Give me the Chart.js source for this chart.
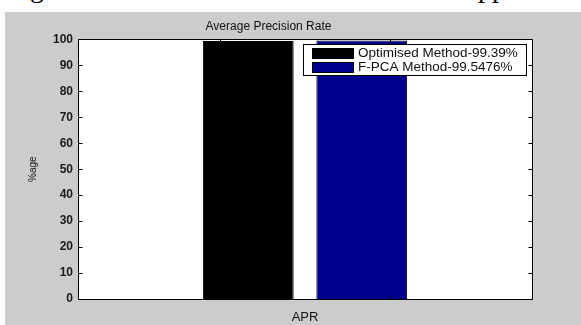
<!DOCTYPE html>
<html><head><meta charset="utf-8">
<script src="https://cdn.jsdelivr.net/npm/chart.js@4/dist/chart.umd.min.js"></script>
<style>
html,body{margin:0;padding:0;background:#fff;width:581px;height:325px;overflow:hidden;}
#frag{position:absolute;left:0;top:0;width:581px;height:12px;overflow:hidden;font-family:"Liberation Serif",serif;font-size:28px;color:#000;}
#frag span{position:absolute;top:-28px;line-height:32px;}
#wrap{position:absolute;left:5px;top:12px;width:576px;height:313px;background:#cccccc;}
canvas{display:block;}
</style></head>
<body>
<div id="frag"><span style="left:30px">g</span><span style="left:478px">pp</span></div>
<div id="wrap"><canvas id="c" width="576" height="313"></canvas></div>
<script>
// ---- data ----
const categories = ['APR'];
const seriesNames = ['Optimised Method-99.39%', 'F-PCA Method-99.5476%'];
const optimisedValues = [99.39];
const fpcaValues = [99.5476];
const seriesColors = ['#000000', '#00008f'];
const yTickValues = [0, 10, 20, 30, 40, 50, 60, 70, 80, 90, 100];
const xTickMarkValues = [1, 7]; // positions on a 0–8 helper axis

const FONT = '"Liberation Sans", Arial, sans-serif';

const framePlugin = {
  id: 'frame',
  beforeDatasetsDraw(chart) {
    const {ctx, chartArea: a} = chart;
    ctx.save();
    ctx.fillStyle = '#ffffff';
    ctx.fillRect(a.left, a.top, a.right - a.left, a.bottom - a.top);
    ctx.restore();
  },
  afterDatasetsDraw(chart) {
    const {ctx, chartArea: a, scales} = chart;
    const y = scales.y, xt = scales.xt;
    const L = Math.round(a.left) + 0.5, R = Math.round(a.right) + 0.5;
    const T = Math.round(a.top) + 0.5, B = Math.round(a.bottom) + 0.5;
    ctx.save();
    ctx.strokeStyle = '#000';
    ctx.lineWidth = 1;
    ctx.beginPath();
    ctx.rect(L, T, R - L, B - T);
    y.ticks.forEach(t => {
      const py = Math.round(y.getPixelForValue(t.value)) + 0.5;
      ctx.moveTo(L, py); ctx.lineTo(L + 4, py);
      ctx.moveTo(R, py); ctx.lineTo(R - 4, py);
    });
    xt.ticks.forEach(t => {
      const px = Math.round(xt.getPixelForValue(t.value)) + 0.5;
      ctx.moveTo(px, B); ctx.lineTo(px, B - 4);
      ctx.moveTo(px, T); ctx.lineTo(px, T + 4);
    });
    ctx.stroke();
    ctx.restore();
  },
  afterDraw(chart) {
    const {ctx, chartArea: a} = chart;
    const ds = chart.data.datasets;
    ctx.save();
    ctx.font = '13.5px ' + FONT;
    const w = Math.max(...ds.map(d => ctx.measureText(d.label).width));
    const padL = 9, sw = 42, gap = 4, padR = 8, rowH = 14;
    const boxW = Math.round(padL + sw + gap + w + padR), boxH = 31;
    const x0 = Math.round(a.right) - 6 - boxW, y0 = Math.round(a.top) + 5;
    ctx.fillStyle = '#fff';
    ctx.fillRect(x0, y0, boxW, boxH);
    ctx.strokeStyle = '#000';
    ctx.lineWidth = 1;
    ctx.strokeRect(x0 + 0.5, y0 + 0.5, boxW, boxH);
    ds.forEach((d, i) => {
      const cy = y0 + 9 + i * rowH;
      ctx.fillStyle = d.backgroundColor;
      ctx.fillRect(x0 + padL, cy - 5, sw, 10);
      ctx.strokeStyle = '#000';
      ctx.strokeRect(x0 + padL + 0.5, cy - 5 + 0.5, sw - 1, 10);
      ctx.fillStyle = '#111';
      ctx.textBaseline = 'middle';
      ctx.textAlign = 'left';
      ctx.fillText(d.label, x0 + padL + sw + gap, cy + 0.5);
    });
    ctx.restore();
  }
};

new Chart(document.getElementById('c'), {
  type: 'bar',
  data: {
    labels: categories,
    datasets: [
      {label: seriesNames[0], data: optimisedValues, backgroundColor: seriesColors[0], borderColor: '#000', borderWidth: 1, barPercentage: 0.8, categoryPercentage: 0.5},
      {label: seriesNames[1], data: fpcaValues, backgroundColor: seriesColors[1], borderColor: '#000', borderWidth: 1, barPercentage: 0.8, categoryPercentage: 0.5}
    ]
  },
  options: {
    responsive: false,
    animation: false,
    devicePixelRatio: 1,
    layout: {padding: {left: 0, right: 49, top: 0, bottom: 0}},
    plugins: {
      legend: {display: false},
      tooltip: {enabled: false},
      title: {display: true, text: 'Average Precision Rate', color: '#111',
        font: {family: FONT, size: 12, weight: 'normal'}, padding: {top: 7, bottom: 6}}
    },
    scales: {
      x: {
        type: 'category', position: 'bottom',
        grid: {display: false, drawTicks: false}, border: {display: false},
        ticks: {display: false},
        title: {display: true, text: 'APR', color: '#111', font: {family: FONT, size: 13}, padding: {top: 0, bottom: 0}},
        afterFit(s) { s.height = 26; }
      },
      xt: {
        type: 'linear', position: 'bottom', display: false, min: 0, max: 8,
        afterBuildTicks(s) { s.ticks = xTickMarkValues.map(v => ({value: v})); }
      },
      y: {
        min: 0, max: 100,
        grid: {display: false, drawTicks: false}, border: {display: false},
        afterBuildTicks(s) { s.ticks = yTickValues.map(v => ({value: v})); },
        ticks: {padding: 5, color: '#1a1a1a', font: {family: FONT, size: 12, weight: 'bold'}},
        title: {display: true, text: '%age', color: '#111', font: {family: FONT, size: 10}, padding: {top: 22, bottom: 0}},
        afterFit(s) { s.width = 73; }
      }
    }
  },
  plugins: [framePlugin]
});
</script>
</body></html>
